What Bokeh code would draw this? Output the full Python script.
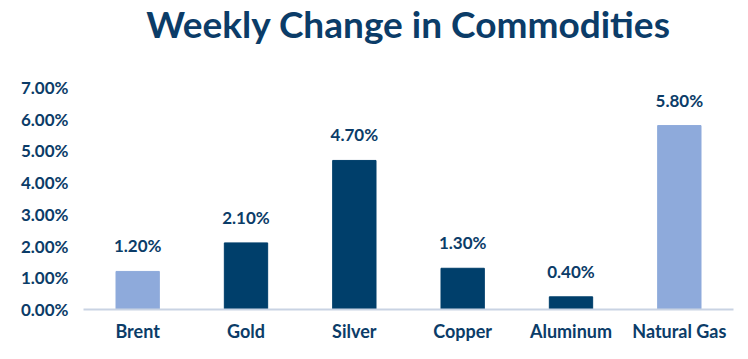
from bokeh.plotting import figure
from bokeh.models import ColumnDataSource, NumeralTickFormatter, FixedTicker, LabelSet, Title
from bokeh.core.properties import value
from bokeh.embed import file_html
from bokeh.resources import INLINE

title_text = "Weekly Change in Commodities"
categories = ["Brent", "Gold", "Silver", "Copper", "Aluminum", "Natural Gas"]
values = [0.012, 0.021, 0.047, 0.013, 0.004, 0.058]
colors = ["#8eaadb", "#003f6b", "#003f6b", "#003f6b", "#003f6b", "#8eaadb"]
labels = ["1.20%", "2.10%", "4.70%", "1.30%", "0.40%", "5.80%"]
y_ticks = [0.0, 0.01, 0.02, 0.03, 0.04, 0.05, 0.06, 0.07]

DARK = "#0b3c68"
FONT = "Lato"

src = ColumnDataSource(dict(cat=categories, val=values, color=colors, lab=labels))

p = figure(x_range=categories, y_range=(0, 0.07), frame_width=650, frame_height=222,
           output_backend="svg", toolbar_location=None, title=title_text,
           min_border_left=83, min_border_right=5, min_border_bottom=10, min_border_top=87)

p.vbar(x="cat", top="val", width=0.4, color="color", source=src)

p.add_layout(LabelSet(x="cat", y="val", text="lab", source=src, y_offset=15,
                      text_align="center", text_baseline="bottom",
                      text_color=DARK, text_font=value(FONT), text_font_size="17px",
                      text_font_style="bold"))

p.title.align = "center"
p.title.vertical_align = "top"
p.title.text_font = FONT
p.title.text_font_size = "37px"
p.title.text_font_style = "bold"
p.title.text_color = DARK
p.title.offset = 0
p.title.standoff = 0

# empty spacer between the title and the plot area
p.add_layout(Title(text=" ", text_font_size="1px", standoff=37), "above")

p.xgrid.grid_line_color = None
p.ygrid.grid_line_color = None
p.outline_line_color = None

p.yaxis.ticker = FixedTicker(ticks=y_ticks)
p.yaxis.formatter = NumeralTickFormatter(format="0.00%")
p.yaxis.axis_line_color = None
p.yaxis.major_tick_line_color = None
p.yaxis.minor_tick_line_color = None
p.yaxis.major_label_text_font = FONT
p.yaxis.major_label_text_font_size = "17px"
p.yaxis.major_label_text_font_style = "bold"
p.yaxis.major_label_text_color = DARK
p.yaxis.major_label_standoff = 9

p.xaxis.axis_line_color = "#c9d3e3"
p.xaxis.axis_line_width = 2
p.xaxis.major_tick_line_color = None
p.xaxis.minor_tick_line_color = None
p.xaxis.major_label_text_font = FONT
p.xaxis.major_label_text_font_size = "18px"
p.xaxis.major_label_text_font_style = "bold"
p.xaxis.major_label_text_color = DARK
p.xaxis.major_label_standoff = 4

p.x_range.range_padding = 0.0

open("out.html", "w").write(file_html(p, INLINE))
